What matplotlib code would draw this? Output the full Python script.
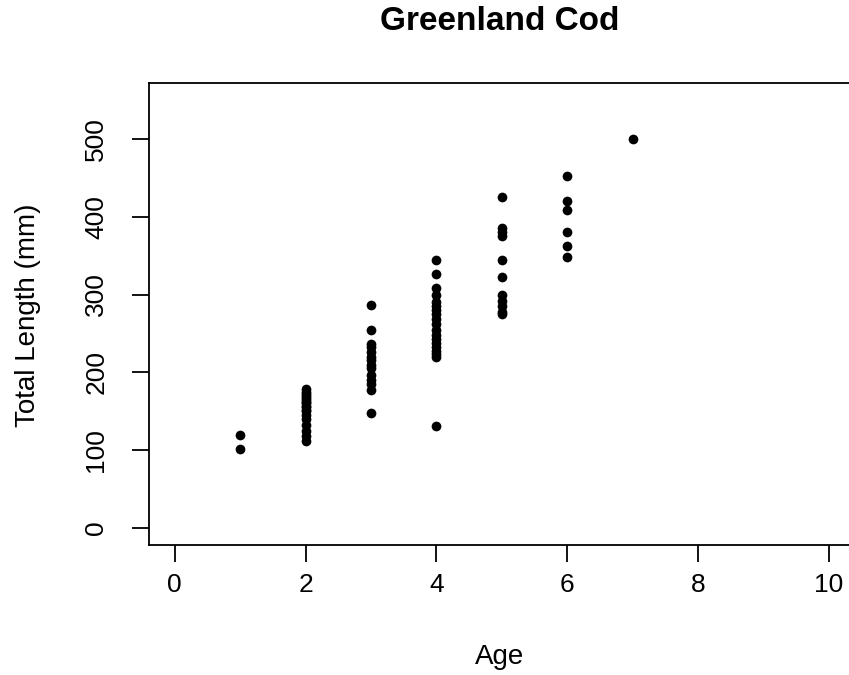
#!/usr/bin/env python3
"""
Greenland Cod - total length at age scatter (R base graphics look)
"""

import matplotlib
matplotlib.use("Agg")
import matplotlib.pyplot as plt

# Values
ages = [1, 2, 3, 4, 5, 6, 7]
lengths_by_age = [
    [120, 101],
    [178, 175, 172, 170, 167, 165, 162, 160, 157, 155, 152, 150, 145,
     140, 132, 125, 118, 112],
    [286, 255, 237, 232, 226, 220, 216, 210, 205, 197, 190, 185, 177, 148],
    [344, 326, 308, 300, 290, 285, 280, 275, 268, 262, 255, 248, 243,
     238, 233, 228, 224, 220, 131],
    [425, 385, 380, 375, 345, 322, 300, 292, 285, 278, 275],
    [452, 420, 409, 381, 362, 348],
    [500],
]
x_ticks = [0, 2, 4, 6, 8, 10]
y_ticks = [0, 100, 200, 300, 400, 500]

plt.rcParams['font.family'] = ['Liberation Sans', 'DejaVu Sans']

W, H = 849, 675
fig = plt.figure(figsize=(W / 100, H / 100), dpi=100)

# plot region in pixels (right edge runs past the image, as in the source)
left, right, top, bottom = 148.5, 855, 83, 545
ax = fig.add_axes([left / W, 1 - bottom / H, (right - left) / W, (bottom - top) / H])

age_x = []
len_y = []
for a, vals in zip(ages, lengths_by_age):
    age_x += [a] * len(vals)
    len_y += vals

ax.plot(age_x, len_y, 'o', color='black', markersize=7, markeredgewidth=0)

# R default axis range extension (4%)
ax.set_xlim(-0.4, 10.4)
ax.set_ylim(-22, 572)
ax.set_xticks(x_ticks)
ax.set_yticks(y_ticks)
ax.set_yticklabels([str(v) for v in y_ticks], rotation=90, va='center')

for s in ax.spines.values():
    s.set_linewidth(1.3)
ax.spines['right'].set_visible(False)
ax.tick_params(axis='both', length=12, width=1.3, labelsize=19, color='black')
ax.tick_params(axis='x', pad=8)
ax.tick_params(axis='y', pad=17)

ax.set_xlabel('Age', fontsize=20)
ax.set_ylabel('Total Length (mm)', fontsize=20)
ax.xaxis.set_label_coords((500 - left) / (right - left), (bottom - 657) / (bottom - top))
ax.yaxis.set_label_coords((28 - left) / (right - left), (bottom - 315) / (bottom - top))
ax.xaxis.label.set_va('center')
ax.yaxis.label.set_va('center')

fig.text(500 / W, 1 - 22 / H, 'Greenland Cod', ha='center', va='center',
         fontsize=24, fontweight='bold')

fig.savefig('out.png', dpi=100, facecolor='white')
plt.close(fig)
